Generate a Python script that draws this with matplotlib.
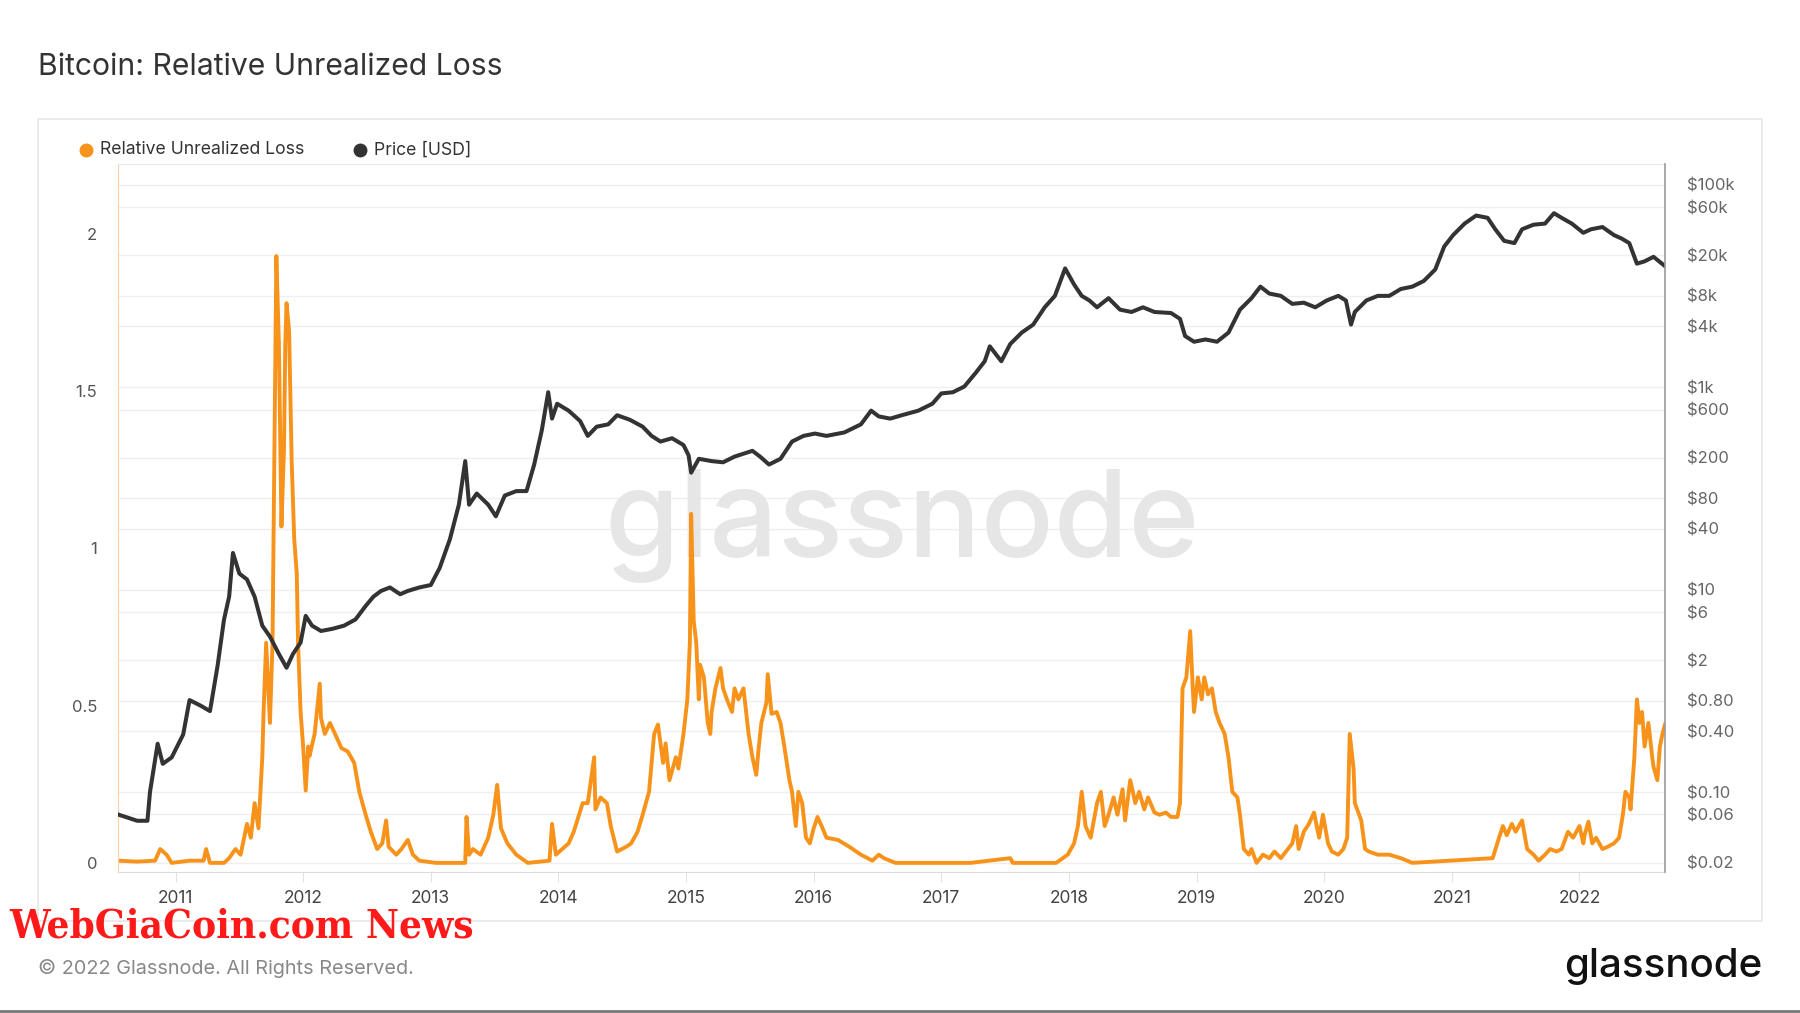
import matplotlib
matplotlib.use("Agg")
import matplotlib.pyplot as plt
from matplotlib.patches import Rectangle
from matplotlib.lines import Line2D

# Relative Unrealized Loss (left axis), decimal years
rul_t = [2010.55, 2010.70, 2010.84, 2010.88, 2010.93, 2010.97, 2011.11, 2011.22, 2011.24, 2011.27,
         2011.38, 2011.42, 2011.47, 2011.51, 2011.56, 2011.59, 2011.62, 2011.65, 2011.68, 2011.69,
         2011.71, 2011.74, 2011.76, 2011.77, 2011.79, 2011.81, 2011.83, 2011.85, 2011.86, 2011.87,
         2011.89, 2011.91, 2011.93, 2011.95, 2011.96, 2011.98, 2012.00, 2012.02, 2012.04, 2012.05,
         2012.09, 2012.13, 2012.14, 2012.17, 2012.21, 2012.25, 2012.30, 2012.35, 2012.40, 2012.44,
         2012.49, 2012.53, 2012.58, 2012.62, 2012.65, 2012.67, 2012.73, 2012.77, 2012.82, 2012.86,
         2012.91, 2013.04, 2013.27, 2013.28, 2013.30, 2013.33, 2013.39, 2013.45, 2013.49, 2013.52,
         2013.55, 2013.60, 2013.67, 2013.76, 2013.93, 2013.95, 2013.98, 2014.03, 2014.08, 2014.12,
         2014.19, 2014.23, 2014.28, 2014.29, 2014.33, 2014.38, 2014.41, 2014.46, 2014.53, 2014.57,
         2014.62, 2014.66, 2014.71, 2014.75, 2014.78, 2014.82, 2014.84, 2014.87, 2014.92, 2014.94,
         2014.98, 2015.01, 2015.03, 2015.04, 2015.06, 2015.08, 2015.10, 2015.11, 2015.14, 2015.17,
         2015.19, 2015.20, 2015.23, 2015.27, 2015.29, 2015.32, 2015.36, 2015.38, 2015.41, 2015.45,
         2015.49, 2015.52, 2015.55, 2015.57, 2015.59, 2015.63, 2015.64, 2015.67, 2015.71, 2015.74,
         2015.77, 2015.81, 2015.83, 2015.86, 2015.88, 2015.91, 2015.94, 2015.97, 2016.00, 2016.03,
         2016.07, 2016.10, 2016.19, 2016.28, 2016.37, 2016.46, 2016.51, 2016.55, 2016.64, 2017.23,
         2017.54, 2017.56, 2017.90, 2017.99, 2018.04, 2018.07, 2018.10, 2018.13, 2018.17, 2018.22,
         2018.25, 2018.28, 2018.31, 2018.35, 2018.38, 2018.42, 2018.44, 2018.48, 2018.52, 2018.55,
         2018.59, 2018.62, 2018.67, 2018.71, 2018.76, 2018.80, 2018.85, 2018.87, 2018.89, 2018.92,
         2018.95, 2018.97, 2018.98, 2019.01, 2019.04, 2019.06, 2019.09, 2019.12, 2019.15, 2019.18,
         2019.22, 2019.25, 2019.28, 2019.32, 2019.34, 2019.37, 2019.41, 2019.43, 2019.47, 2019.52,
         2019.57, 2019.61, 2019.66, 2019.70, 2019.75, 2019.78, 2019.80, 2019.84, 2019.88, 2019.92,
         2019.96, 2019.99, 2020.03, 2020.06, 2020.11, 2020.15, 2020.18, 2020.20, 2020.23, 2020.24,
         2020.29, 2020.32, 2020.35, 2020.42, 2020.51, 2020.60, 2020.69, 2021.32, 2021.37, 2021.40,
         2021.43, 2021.47, 2021.50, 2021.55, 2021.59, 2021.64, 2021.68, 2021.73, 2021.77, 2021.82,
         2021.86, 2021.91, 2021.95, 2022.00, 2022.03, 2022.04, 2022.07, 2022.10, 2022.13, 2022.18,
         2022.22, 2022.27, 2022.31, 2022.34, 2022.36, 2022.39, 2022.40, 2022.43, 2022.45, 2022.47,
         2022.49, 2022.51, 2022.54, 2022.57, 2022.58, 2022.61, 2022.63, 2022.65, 2022.67]
rul_v = [0.007, 0.004, 0.007, 0.044, 0.026, 0.0, 0.007, 0.007, 0.044, 0.0,
         0.0, 0.015, 0.044, 0.026, 0.124, 0.08, 0.19, 0.11, 0.336, 0.48,
         0.70, 0.445, 0.70, 1.10, 1.93, 1.65, 1.07, 1.32, 1.65, 1.78,
         1.69, 1.28, 1.03, 0.92, 0.70, 0.48, 0.37, 0.23, 0.37, 0.34,
         0.41, 0.57, 0.46, 0.41, 0.445, 0.41, 0.365, 0.354, 0.318, 0.226,
         0.153, 0.099, 0.044, 0.062, 0.135, 0.051, 0.026, 0.044, 0.073, 0.026,
         0.007, 0.0, 0.0, 0.146, 0.026, 0.044, 0.026, 0.08, 0.153, 0.248,
         0.11, 0.062, 0.026, 0.0, 0.007, 0.124, 0.026, 0.044, 0.062, 0.099,
         0.19, 0.19, 0.336, 0.17, 0.208, 0.19, 0.117, 0.036, 0.051, 0.062,
         0.099, 0.153, 0.226, 0.41, 0.44, 0.318, 0.38, 0.263, 0.336, 0.30,
         0.41, 0.52, 0.70, 1.11, 0.77, 0.70, 0.52, 0.63, 0.59, 0.445,
         0.41, 0.48, 0.555, 0.62, 0.555, 0.52, 0.48, 0.555, 0.52, 0.555,
         0.41, 0.336, 0.28, 0.37, 0.445, 0.51, 0.60, 0.474, 0.48, 0.445,
         0.37, 0.263, 0.226, 0.117, 0.226, 0.19, 0.08, 0.062, 0.11, 0.146,
         0.11, 0.08, 0.073, 0.051, 0.026, 0.007, 0.026, 0.015, 0.0, 0.0,
         0.015, 0.0, 0.0, 0.026, 0.062, 0.117, 0.226, 0.117, 0.08, 0.19,
         0.226, 0.117, 0.153, 0.208, 0.153, 0.234, 0.135, 0.263, 0.19, 0.226,
         0.17, 0.208, 0.16, 0.153, 0.16, 0.146, 0.146, 0.19, 0.555, 0.59,
         0.737, 0.555, 0.48, 0.59, 0.52, 0.59, 0.536, 0.555, 0.48, 0.445,
         0.41, 0.336, 0.226, 0.208, 0.153, 0.044, 0.026, 0.044, 0.0, 0.026,
         0.015, 0.036, 0.015, 0.036, 0.062, 0.117, 0.044, 0.099, 0.124, 0.16,
         0.08, 0.153, 0.062, 0.036, 0.026, 0.044, 0.08, 0.41, 0.30, 0.19,
         0.135, 0.044, 0.036, 0.026, 0.026, 0.015, 0.0, 0.015, 0.08, 0.117,
         0.088, 0.124, 0.099, 0.135, 0.044, 0.026, 0.007, 0.026, 0.044, 0.036,
         0.044, 0.099, 0.08, 0.117, 0.062, 0.088, 0.131, 0.062, 0.08, 0.044,
         0.051, 0.062, 0.08, 0.153, 0.226, 0.208, 0.17, 0.336, 0.52, 0.445,
         0.48, 0.37, 0.445, 0.336, 0.306, 0.263, 0.37, 0.41, 0.44]

# Price [USD] (right axis, log)
price_t = [2010.55, 2010.70, 2010.78, 2010.80, 2010.86, 2010.90, 2010.97, 2011.06, 2011.11, 2011.20,
           2011.27, 2011.33, 2011.38, 2011.42, 2011.45, 2011.50, 2011.56, 2011.62, 2011.68, 2011.74,
           2011.81, 2011.87, 2011.92, 2011.98, 2012.02, 2012.07, 2012.14, 2012.23, 2012.32, 2012.41,
           2012.49, 2012.55, 2012.61, 2012.68, 2012.76, 2012.82, 2012.91, 2013.00, 2013.07, 2013.15,
           2013.22, 2013.27, 2013.30, 2013.36, 2013.45, 2013.51, 2013.58, 2013.67, 2013.75, 2013.81,
           2013.87, 2013.92, 2013.95, 2013.99, 2014.08, 2014.17, 2014.23, 2014.30, 2014.39, 2014.46,
           2014.56, 2014.66, 2014.73, 2014.80, 2014.89, 2014.98, 2015.02, 2015.04, 2015.10, 2015.20,
           2015.29, 2015.38, 2015.52, 2015.58, 2015.65, 2015.74, 2015.83, 2015.92, 2016.01, 2016.10,
           2016.24, 2016.37, 2016.45, 2016.51, 2016.60, 2016.69, 2016.82, 2016.93, 2017.00, 2017.09,
           2017.18, 2017.27, 2017.34, 2017.38, 2017.47, 2017.54, 2017.63, 2017.72, 2017.81, 2017.89,
           2017.97, 2018.04, 2018.10, 2018.16, 2018.22, 2018.31, 2018.40, 2018.49, 2018.58, 2018.67,
           2018.80, 2018.87, 2018.91, 2018.98, 2019.07, 2019.16, 2019.25, 2019.34, 2019.43, 2019.50,
           2019.57, 2019.66, 2019.75, 2019.84, 2019.93, 2020.02, 2020.11, 2020.17, 2020.21, 2020.24,
           2020.33, 2020.42, 2020.51, 2020.60, 2020.69, 2020.78, 2020.87, 2020.94, 2021.01, 2021.10,
           2021.19, 2021.28, 2021.34, 2021.41, 2021.49, 2021.55, 2021.64, 2021.73, 2021.80, 2021.86,
           2021.94, 2022.03, 2022.09, 2022.18, 2022.27, 2022.33, 2022.39, 2022.45, 2022.51, 2022.58,
           2022.67]
price_v = [0.060, 0.052, 0.052, 0.10, 0.30, 0.19, 0.22, 0.37, 0.81, 0.71,
           0.63, 1.78, 5.07, 8.5, 23, 14.4, 12.6, 8.5, 4.4, 3.43,
           2.31, 1.69, 2.31, 3.0, 5.5, 4.4, 3.9, 4.1, 4.4, 5.07,
           6.9, 8.5, 9.7, 10.5, 9.0, 9.7, 10.5, 11.1, 16.4, 31.5,
           69, 186, 69, 89, 69, 53, 85, 94, 94, 172,
           376, 891, 489, 686, 586, 463, 330, 407, 429, 528,
           476, 407, 330, 290, 313, 268, 212, 143, 196, 186,
           181, 206, 235, 206, 172, 196, 290, 330, 348, 330,
           357, 429, 586, 514, 489, 528, 586, 686, 867, 891,
           1014, 1387, 1803, 2530, 1803, 2667, 3460, 4150, 6150, 7980,
           14900, 10350, 7980, 7190, 6150, 7570, 5830, 5530, 6150, 5530,
           5400, 4730, 3200, 2810, 2960, 2810, 3460, 5830, 7570, 9840,
           8410, 7980, 6650, 6830, 6150, 7190, 7980, 7190, 4150, 5530,
           7190, 7980, 7980, 9330, 9840, 11200, 14550, 24500, 31800, 41300,
           49600, 47100, 36300, 27900, 26500, 36300, 40300, 41300, 52300, 47100,
           41300, 33500, 36300, 38200, 31800, 29400, 26500, 16600, 17500, 19400,
           15700]

years = list(range(2011, 2023))
left_ticks = [0, 0.5, 1, 1.5, 2]
left_labels = ['0', '0.5', '1', '1.5', '2']
price_ticks = [1e5, 6e4, 2e4, 8e3, 4e3, 1e3, 600, 200, 80, 40, 10, 6, 2, 0.8, 0.4, 0.1, 0.06, 0.02]
price_labels = ['$100k', '$60k', '$20k', '$8k', '$4k', '$1k', '$600', '$200', '$80', '$40',
                '$10', '$6', '$2', '$0.80', '$0.40', '$0.10', '$0.06', '$0.02']

ORANGE = '#f7931a'
DARK = '#333333'

plt.rcParams['font.family'] = ['Inter', 'DejaVu Sans']

fig = plt.figure(figsize=(18, 10.13), dpi=100)
fig.patch.set_facecolor('white')

rect = [0.0656, 0.1392, 0.8594, 0.699]
xlim = (2010.55, 2022.67)
plim = (0.01622, 160600)

# background axes: grid + watermark
axg = fig.add_axes(rect)
axg.set_yscale('log')
axg.set_ylim(plim)
axg.set_xlim(xlim)
for v in price_ticks:
    axg.axhline(v, color='#efefef', lw=1.0, zorder=0)
axg.set_xticks([])
axg.set_yticks([])
axg.minorticks_off()
for s in axg.spines.values():
    s.set_visible(False)
axg.text(0.507, 0.488, 'glassnode', transform=axg.transAxes, ha='center', va='center',
         fontsize=87, color='#e6e6e6', fontweight='medium')

ax = fig.add_axes(rect)
ax.patch.set_visible(False)
ax.plot(rul_t, rul_v, color=ORANGE, lw=2.8, solid_joinstyle='round')
ax.set_xlim(xlim)
ax.set_ylim(-0.029, 2.223)
ax.set_yticks(left_ticks)
ax.set_yticklabels(left_labels)
ax.set_xticks(years)
ax.set_xticklabels([str(y) for y in years])
ax.tick_params(axis='y', length=0, pad=15, labelsize=12, labelcolor='#555555')
ax.tick_params(axis='x', length=7, color='#e3e3e3', pad=6, labelsize=12.5, labelcolor='#444444')
ax.spines['left'].set_color('#fcd2a4')
ax.spines['top'].set_color('#e8e8e8')
ax.spines['bottom'].set_color('#dcdcdc')
ax.spines['right'].set_visible(False)

ax2 = ax.twinx()
ax2.plot(price_t, price_v, color=DARK, lw=2.9, solid_joinstyle='round')
ax2.set_yscale('log')
ax2.set_ylim(plim)
ax2.set_yticks(price_ticks)
ax2.set_yticklabels(price_labels)
ax2.minorticks_off()
ax2.tick_params(axis='y', length=0, pad=16, labelsize=12, labelcolor='#666666')
for k in ['left', 'top', 'bottom']:
    ax2.spines[k].set_visible(False)
ax2.spines['right'].set_color('#9a9a9a')
ax2.spines['right'].set_linewidth(1.2)

# outer frame
fig.add_artist(Rectangle((0.0211, 0.0908), 0.958, 0.7917, transform=fig.transFigure,
                         fill=False, ec='#e6e6e6', lw=1.2))

# title
fig.text(0.0211, 0.934, 'Bitcoin: Relative Unrealized Loss', fontsize=21.7, color='#333333',
         va='center', ha='left')

# legend
fig.add_artist(Line2D([0.0478], [0.852], marker='o', ms=9, color=ORANGE, transform=fig.transFigure))
fig.text(0.0556, 0.852, 'Relative Unrealized Loss', fontsize=12.7, color='#333333', va='center')
fig.add_artist(Line2D([0.2000], [0.852], marker='o', ms=9, color=DARK, transform=fig.transFigure))
fig.text(0.2078, 0.852, 'Price [USD]', fontsize=12.7, color='#333333', va='center')

# footer
fig.text(0.005, 0.0858, 'WebGiaCoin.com News', fontsize=29, color='#ff1a1a',
         family=['DejaVu Serif Condensed', 'DejaVu Serif'], fontstretch='condensed',
         fontweight='heavy', va='center')
fig.text(0.0211, 0.0444, '\u00a9 2022 Glassnode. All Rights Reserved.', fontsize=14.3,
         color='#888888', va='center')
fig.text(0.979, 0.046, 'glassnode', fontsize=29, color='#111111', fontweight='medium',
         ha='right', va='center')
fig.add_artist(Line2D([0, 1], [0.002, 0.002], color='#777777', lw=2, transform=fig.transFigure))

fig.savefig('out.png', dpi=100, facecolor='white')
